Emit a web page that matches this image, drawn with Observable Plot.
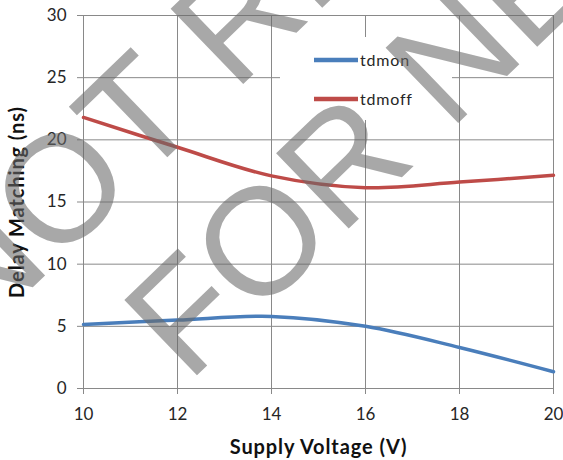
<!DOCTYPE html>
<html>
<head>
<meta charset="utf-8">
<script src="https://cdn.jsdelivr.net/npm/d3@7"></script>
<script src="https://cdn.jsdelivr.net/npm/@observablehq/plot@0.6"></script>
<style>
  html, body { margin: 0; padding: 0; background: #fff; }
  #wrap { position: relative; width: 563px; height: 460px; overflow: hidden; background: #fff; }
  #legend { position: absolute; left: 280px; top: 37px; width: 172px; height: 83px; background: #fff; }
  #wm { position: absolute; left: 0; top: 0; pointer-events: none; }
</style>
</head>
<body>
<div id="wrap"></div>
<script>
// ---- data ----
const voltage = [10, 12, 14, 16, 18, 20];
const tdmon  = [5.15, 5.5, 5.8, 5.0, 3.3, 1.35];
const tdmoff = [21.8, 19.4, 17.1, 16.15, 16.6, 17.15];
const seriesNames = ["tdmon", "tdmoff"];
const seriesColors = ["#4A7EBB", "#BE4B48"];
const xTicks = [10, 12, 14, 16, 18, 20];
const yTicks = [0, 5, 10, 15, 20, 25, 30];
const xTitle = "Supply Voltage (V)";
const yTitle = "Delay Matching (ns)";
const watermarkLines = ["NOT RECOMMENDED", "FOR NEW DESIGNS"];

const rows = [];
[tdmon, tdmoff].forEach((vals, i) => {
  vals.forEach((v, j) => rows.push({ series: seriesNames[i], x: voltage[j], y: v }));
});

const gridColor = "#898989";

const chart = Plot.plot({
  width: 563,
  height: 460,
  marginLeft: 83,
  marginRight: 10,
  marginTop: 15,
  marginBottom: 72,
  style: { fontFamily: "Lato", fontSize: "17px", color: "#262626", background: "white" },
  x: { domain: [10, 20] },
  y: { domain: [0, 30] },
  color: { domain: seriesNames, range: seriesColors },
  marks: [
    Plot.gridX(xTicks, { stroke: gridColor, strokeOpacity: 1 }),
    Plot.gridY(yTicks, { stroke: gridColor, strokeOpacity: 1 }),
    Plot.axisX(xTicks, { tickSize: 6, tickPadding: 13, stroke: gridColor, label: null }),
    Plot.axisY(yTicks, { tickSize: 6, tickPadding: 11, stroke: gridColor, label: null }),
    Plot.line(rows, { x: "x", y: "y", z: "series", stroke: "series", strokeWidth: 3.5, curve: "catmull-rom" }),
    Plot.text([xTitle], { frameAnchor: "bottom", dy: 59, fontWeight: "bold", fontSize: 20, lineAnchor: "middle", textAnchor: "middle", fill: "#111" }),
    Plot.text([yTitle], { frameAnchor: "left", dx: -66, rotate: -90, fontWeight: "bold", fontSize: 20, textAnchor: "middle", lineAnchor: "middle", fill: "#111" })
  ]
});

// letter spacing on axis titles
d3.select(chart).selectAll("text").filter(function () {
  const t = this.textContent;
  return t === xTitle || t === yTitle;
}).attr("letter-spacing", "0.9px");

const wrap = document.getElementById("wrap");
wrap.appendChild(chart);

// legend (inside plot area, white box)
const legend = document.createElement("div");
legend.id = "legend";
const ls = d3.select(legend).append("svg").attr("width", 172).attr("height", 83);
seriesNames.forEach((name, i) => {
  const yy = 23 + i * 39;
  ls.append("line").attr("x1", 34).attr("x2", 78).attr("y1", yy).attr("y2", yy)
    .attr("stroke", seriesColors[i]).attr("stroke-width", 4.5);
  ls.append("text").attr("x", 80).attr("y", yy).attr("dy", "0.35em")
    .attr("font-family", "Lato").attr("font-size", 16).attr("letter-spacing", "0.8px")
    .attr("fill", "#262626").text(name);
});
wrap.appendChild(legend);

// watermark overlay
const wm = d3.select(wrap).append("svg").attr("id", "wm").attr("width", 563).attr("height", 460);
const wmPos = [[-25, 343], [188, 384]];
watermarkLines.forEach((t, i) => {
  wm.append("text")
    .attr("transform", `translate(${wmPos[i][0]},${wmPos[i][1]}) rotate(-44)`)
    .attr("font-family", "Liberation Sans").attr("font-size", 152)
    .attr("fill", "rgba(105,105,105,0.58)")
    .text(t);
});
</script>
</body>
</html>
